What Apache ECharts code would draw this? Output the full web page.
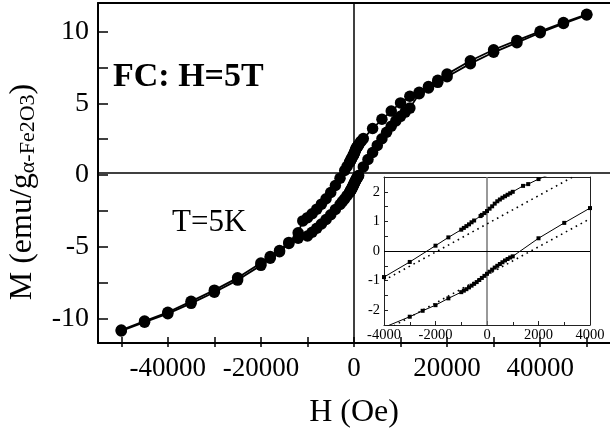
<!DOCTYPE html>
<html><head><meta charset="utf-8">
<script src="https://cdn.jsdelivr.net/npm/echarts@6/dist/echarts.min.js"></script>
<style>html,body{margin:0;padding:0;background:#fff}#c{width:610px;height:434px}</style>
</head><body><div id="c"></div>
<script>
// Descending branch (field swept from +5 T to -5 T)
const upperH = [50000, 45000, 40000, 35000, 30000, 25000, 20000, 18000, 16000, 14000, 12000, 10000, 8000, 6000, 4000,
  2000, 1600, 1400, 1000, 900, 800, 700, 600, 500, 400, 300, 200, 100, 0, -100, -200, -250, -500, -600, -700, -800, -900, -1000,
  -1500, -2000, -3000, -4000, -5000, -6000, -7000, -8000, -9000, -10000, -11000,
  -12000, -14000, -16000, -18000, -20000, -25000, -30000, -35000, -40000, -45000, -50000];
const upperM = [11.2, 10.62, 10.0, 9.36, 8.7, 7.92, 6.98, 6.55, 6.1, 5.7, 5.42, 4.95, 4.37, 3.79, 3.14,
  2.43, 2.26, 2.2, 2.0, 1.95, 1.9, 1.85, 1.8, 1.74, 1.68, 1.6, 1.51, 1.43, 1.35, 1.28, 1.22, 1.18, 1.03, 0.97, 0.9, 0.84, 0.78, 0.72,
  0.46, 0.18, -0.37, -0.88, -1.38, -1.82, -2.2, -2.55, -2.88, -3.15, -3.38,
  -4.22, -4.9, -5.47, -5.9, -6.35, -7.4, -8.27, -9.06, -9.83, -10.45, -11.08];
// Ascending branch (field swept from -5 T to +5 T)
const lowerH = [-50000, -45000, -40000, -35000, -30000, -25000, -20000, -18000, -16000, -14000, -12000, -10000, -9000, -8000, -7000,
  -6000, -5000, -4000, -3000, -2500, -2000, -1500, -1000, -900, -800, -700, -600, -500, -400, -300, -200, -100, 0, 100, 200, 300,
  400, 500, 600, 700, 800, 900, 1000, 2000, 3000, 4000, 5000, 6000, 7000, 8000, 9000, 10000, 11000, 12000,
  14000, 16000, 18000, 20000, 25000, 30000, 35000, 40000, 45000, 50000];
const lowerM = [-11.15, -10.53, -9.93, -9.2, -8.42, -7.56, -6.52, -6.02, -5.56, -4.98, -4.6, -4.45, -4.18, -3.9, -3.6,
  -3.28, -2.95, -2.58, -2.22, -2.02, -1.83, -1.6, -1.39, -1.34, -1.29, -1.23, -1.17, -1.11, -1.05, -0.98, -0.91, -0.84, -0.77, -0.7, -0.63, -0.56,
  -0.5, -0.44, -0.38, -0.32, -0.27, -0.22, -0.18, 0.43, 0.95, 1.45, 1.95, 2.42, 2.88, 3.3, 3.68, 4.0, 4.3, 4.58,
  5.6, 6.0, 6.4, 6.8, 7.72, 8.52, 9.2, 9.9, 10.55, 11.15];
// Dotted reference lines in the inset
const fitH = [-4000, 4000];
const fitUpperM = [-0.99, 2.82];
const fitLowerM = [-2.71, 1.09];
// Tick labels
const mainXLabels = [-40000, -20000, 0, 20000, 40000];
const mainYLabels = [-10, -5, 0, 5, 10];
const insetXLabels = [-4000, -2000, 0, 2000, 4000];
const insetYLabels = [-2, -1, 0, 1, 2];

const zip = (xs, ys) => xs.map((x, i) => [x, ys[i]]);
const FONT = '"Liberation Serif", "Times New Roman", serif';

// layout
const W = 610, H = 434;
const gL = 98, gT = 3, gR = 0, gB = 87;
const gW = W - gL - gR, gH = H - gT - gB;
const xMin = -55000, xMax = 55000, yMin = -12, yMax = 12;
const xPad = (-50000 - xMin) / (xMax - xMin) * gW;
const yPad = (yMax - 10) / (yMax - yMin) * gH;

const chart = echarts.init(document.getElementById('c'), null, {renderer: 'canvas'});
const blk = '#000';
const hiddenAxis = (g) => ({gridIndex: g, type: 'value', show: false, min: 0, max: 1});
const frameAxis = (g, pos, min, max) => ({gridIndex: g, type: 'value', position: pos, min, max,
  splitLine: {show: false}, axisLine: {onZero: false, lineStyle: {color: '#222', width: 1}},
  axisTick: {show: false}, axisLabel: {show: false}});

chart.setOption({
  animation: false,
  backgroundColor: '#fff',
  grid: [
    {left: gL, top: gT, right: gR, bottom: gB},
    {left: gL + xPad, top: gT, right: gR + xPad, bottom: gB},
    {left: gL, top: gT + yPad, right: gR, bottom: gB + yPad},
    {left: 384, top: 177, right: 20, bottom: 109}
  ],
  xAxis: [
    {gridIndex: 0, type: 'value', min: xMin, max: xMax, splitLine: {show: false},
      axisLine: {onZero: false, lineStyle: {color: blk, width: 2}}, axisTick: {show: false}, axisLabel: {show: false},
      name: 'H (Oe)', nameLocation: 'middle', nameGap: 54,
      nameTextStyle: {fontFamily: FONT, fontSize: 32, color: blk}},
    {gridIndex: 0, type: 'value', position: 'top', min: xMin, max: xMax, splitLine: {show: false},
      axisLine: {onZero: false, lineStyle: {color: blk, width: 2}}, axisTick: {show: false}, axisLabel: {show: false}},
    {gridIndex: 1, type: 'value', min: -50000, max: 50000, interval: 10000, splitLine: {show: false},
      axisLine: {show: false, onZero: false}, axisTick: {show: true, inside: true, length: 10, lineStyle: {color: blk, width: 1.5}},
      axisLabel: {fontFamily: FONT, fontSize: 27, color: blk, margin: 8,
        formatter: v => mainXLabels.includes(v) ? String(v) : ''}},
    hiddenAxis(2),
    {gridIndex: 3, type: 'value', min: -4000, max: 4000, interval: 2000, splitLine: {show: false},
      axisLine: {onZero: false, lineStyle: {color: '#222', width: 1}},
      axisTick: {inside: true, length: 4, lineStyle: {color: '#222'}},
      minorTick: {show: true, splitNumber: 2, length: 3, lineStyle: {color: '#222'}},
      axisLabel: {fontFamily: FONT, fontSize: 14.5, color: blk, margin: 3,
        formatter: v => insetXLabels.includes(v) ? String(v) : ''}},
    frameAxis(3, 'top', -4000, 4000)
  ],
  yAxis: [
    {gridIndex: 0, type: 'value', min: yMin, max: yMax, splitLine: {show: false},
      axisLine: {onZero: false, lineStyle: {color: blk, width: 2}}, axisTick: {show: false}, axisLabel: {show: false}},
    hiddenAxis(1),
    {gridIndex: 2, type: 'value', min: -10, max: 10, interval: 2.5, splitLine: {show: false},
      axisLine: {show: false, onZero: false}, axisTick: {show: true, inside: true, length: 10, lineStyle: {color: blk, width: 1.5}},
      axisLabel: {fontFamily: FONT, fontSize: 28, color: blk, margin: 9,
        formatter: v => mainYLabels.includes(v) ? String(v) : ''}},
    {gridIndex: 3, type: 'value', min: -2.5, max: 2.5, interval: 0.5, splitLine: {show: false},
      axisLine: {onZero: false, lineStyle: {color: '#222', width: 1}},
      axisTick: {inside: true, length: 4, lineStyle: {color: '#222'}},
      axisLabel: {fontFamily: FONT, fontSize: 14.5, color: blk, margin: 4,
        formatter: v => insetYLabels.includes(v) ? String(v) : ''}},
    frameAxis(3, 'right', -2.5, 2.5)
  ],
  series: [
    {type: 'line', xAxisIndex: 0, yAxisIndex: 0, data: zip(upperH, upperM), symbol: 'circle', symbolSize: 11.5,
      itemStyle: {color: blk}, lineStyle: {color: blk, width: 1.8}, z: 3,
      markLine: {silent: true, symbol: ['none', 'none'], label: {show: false},
        lineStyle: {color: blk, width: 1.5, type: 'solid'}, data: [{xAxis: 0}, {yAxis: 0}]}},
    {type: 'line', xAxisIndex: 0, yAxisIndex: 0, data: zip(lowerH, lowerM), symbol: 'circle', symbolSize: 11.5,
      itemStyle: {color: blk}, lineStyle: {color: blk, width: 1.8}, z: 3},
    {type: 'line', xAxisIndex: 4, yAxisIndex: 3, data: zip(upperH, upperM), symbol: 'rect', symbolSize: 4,
      itemStyle: {color: blk}, lineStyle: {color: blk, width: 1}, z: 10,
      markLine: {silent: true, symbol: ['none', 'none'], label: {show: false},
        data: [{xAxis: 0, lineStyle: {color: '#777', width: 1.5, type: 'solid'}},
               {yAxis: 0, lineStyle: {color: blk, width: 1, type: 'solid'}}]}},
    {type: 'line', xAxisIndex: 4, yAxisIndex: 3, data: zip(lowerH, lowerM), symbol: 'rect', symbolSize: 4,
      itemStyle: {color: blk}, lineStyle: {color: blk, width: 1}, z: 10},
    {type: 'line', xAxisIndex: 4, yAxisIndex: 3, data: zip(fitH, fitUpperM), symbol: 'none',
      lineStyle: {color: blk, width: 1.6, type: [1.6, 4]}, z: 9},
    {type: 'line', xAxisIndex: 4, yAxisIndex: 3, data: zip(fitH, fitLowerM), symbol: 'none',
      lineStyle: {color: blk, width: 1.6, type: [1.6, 4]}, z: 9}
  ],
  graphic: [
    {type: 'text', x: 23, y: 192, rotation: Math.PI / 2, z: 20,
      style: {text: '{a|M (emu/g}{b|α-Fe2O3}{a|)}', align: 'center', verticalAlign: 'middle', fill: blk,
        rich: {a: {fontFamily: FONT, fontSize: 32, lineHeight: 32, verticalAlign: 'bottom', fill: blk},
               b: {fontFamily: FONT, fontSize: 22, lineHeight: 22, verticalAlign: 'bottom', fill: blk}}}},
    {type: 'text', x: 113, y: 77, z: 20,
      style: {text: 'FC: H=5T', fontFamily: FONT, fontSize: 34, fontWeight: 'bold', fill: blk, align: 'left', verticalAlign: 'middle'}},
    {type: 'text', x: 172, y: 223, z: 20,
      style: {text: 'T=5K', fontFamily: FONT, fontSize: 31, fill: blk, align: 'left', verticalAlign: 'middle'}}
  ]
});
</script></body></html>
